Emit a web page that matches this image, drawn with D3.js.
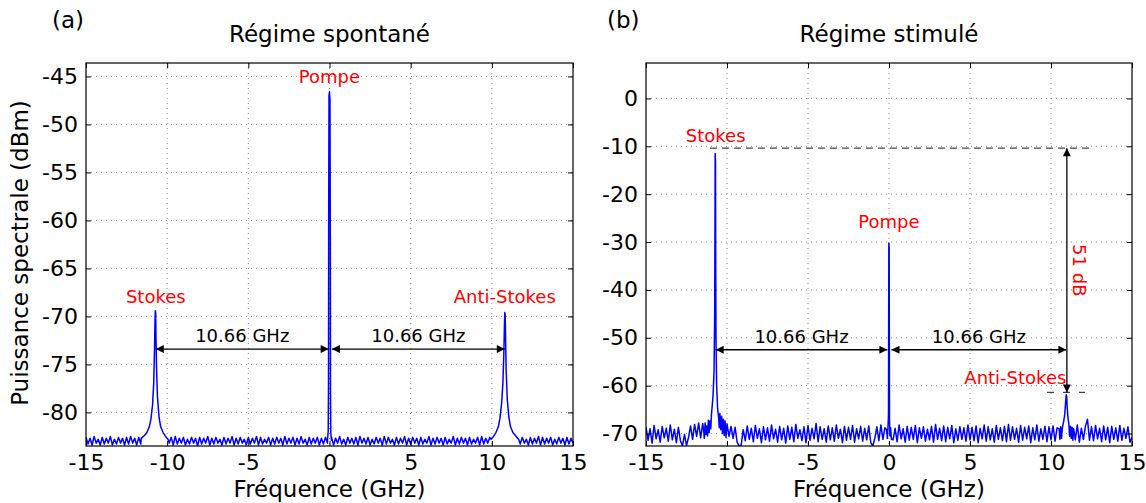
<!DOCTYPE html>
<html><head><meta charset="utf-8">
<script src="https://cdn.jsdelivr.net/npm/d3@7"></script>
<style>
body{margin:0;background:#fff}
text{font-family:"DejaVu Sans",sans-serif}
</style>
</head><body>
<svg id="c" width="1146" height="503"></svg>
<script>
// ---------- data ----------
const xTicks = [-15,-10,-5,0,5,10,15];
const yTicksA = [-80,-75,-70,-65,-60,-55,-50,-45];
const yTicksB = [-70,-60,-50,-40,-30,-20,-10,0];

// noise floor sampled every 0.125 GHz from -15 GHz
const floorStart = -15, floorStep = 0.125;
const floorA = [
-82.6,-83.3,-82.7,-83.4,-82.5,-83.2,-82.8,-83.4,-82.6,-83.3,-82.7,-83.2,-82.5,-83.4,-82.8,-83.3,-82.6,-83.2,-82.7,-83.4,
-82.6,-83.3,-82.5,-83.2,-82.7,-83.4,-82.6,-83.3,-82.8,-83.2,-82.6,-83.4,-82.7,-83.3,-82.5,-83.2,-82.8,-83.4,-82.6,-83.3,
-82.7,-83.2,-82.6,-83.4,-82.5,-83.3,-82.7,-83.2,-82.6,-83.4,-82.8,-83.3,-82.6,-83.2,-82.7,-83.5,-82.6,-83.3,-82.7,-83.2,
-82.5,-83.4,-82.7,-83.3,-82.6,-83.2,-82.8,-83.4,-82.6,-83.3,-82.7,-83.2,-82.5,-83.4,-82.7,-83.3,-82.6,-83.2,-82.8,-83.4,
-82.6,-83.3,-82.7,-83.2,-82.5,-83.4,-82.6,-83.3,-82.8,-83.2,-82.6,-83.4,-82.7,-83.3,-82.6,-83.2,-82.7,-83.4,-82.5,-83.3,
-82.7,-83.2,-82.6,-83.4,-82.7,-83.3,-82.5,-83.2,-82.8,-83.4,-82.6,-83.3,-82.7,-83.2,-82.6,-83.4,-82.7,-83.3,-82.6,-83.2,
-82.9,
-82.6,-83.4,-82.7,-83.2,-82.5,-83.3,-82.8,-83.4,-82.6,-83.2,-82.7,-83.3,-82.6,-83.4,-82.5,-83.2,-82.7,-83.3,-82.6,-83.4,
-82.8,-83.3,-82.6,-83.2,-82.7,-83.4,-82.5,-83.3,-82.6,-83.2,-82.8,-83.4,-82.6,-83.3,-82.7,-83.2,-82.5,-83.4,-82.7,-83.3,
-82.6,-83.2,-82.7,-83.4,-82.6,-83.3,-82.8,-83.2,-82.5,-83.4,-82.7,-83.3,-82.6,-83.2,-82.7,-83.4,-82.6,-83.3,-82.8,-83.2,
-82.5,-83.4,-82.7,-83.3,-82.6,-83.2,-82.7,-83.4,-82.6,-83.3,-82.8,-83.2,-82.6,-83.4,-82.5,-83.3,-82.7,-83.2,-82.6,-83.4,
-82.7,-83.3,-82.6,-83.2,-82.8,-83.4,-82.6,-83.3,-82.7,-83.2,-82.5,-83.4,-82.7,-83.3,-82.6,-83.2,-82.8,-83.4,-82.6,-83.3,
-82.7,-83.2,-82.5,-83.4,-82.6,-83.3,-82.7,-83.2,-82.6,-83.4,-82.8,-83.3,-82.6,-83.2,-82.7,-83.4,-82.6,-83.3,-82.7,-83.2
];
const floorB = [
-68.6,-71.4,-69.0,-72.0,-68.3,-71.1,-69.2,-71.8,-68.5,-70.9,-68.9,-71.6,-68.2,-71.3,-69.1,-71.9,-68.7,-71.5,-72.6,-70.2,
-72.5,-70.8,-68.4,-71.2,-68.1,-70.6,-67.8,-70.9,-67.9,-70.3,-68.0,-70.5,-67.6,-70.1,-68.3,-70.7,-67.7,-70.4,-68.2,-70.9,
-67.9,-70.6,-68.5,-71.0,-68.7,-71.8,-72.6,-72.4,-69.2,-71.5,-68.4,-71.2,-68.9,-71.7,-68.3,-71.0,-69.0,-71.9,-68.6,-71.3,
-68.8,-71.6,-68.2,-71.1,-69.1,-71.8,-68.5,-71.3,-68.9,-72.0,-68.4,-71.2,-68.7,-71.7,-68.1,-71.0,-69.2,-71.5,-68.6,-71.9,
-68.3,-71.4,-68.9,-71.1,-67.9,-71.7,-68.6,-71.2,-69.0,-71.8,-68.4,-71.3,-68.8,-71.6,-68.2,-71.0,-69.1,-71.9,-68.5,-71.4,
-68.7,-71.2,-68.3,-71.8,-69.0,-71.1,-68.5,-71.6,-68.9,-71.3,-68.4,-71.9,-72.6,-71.0,-68.6,-71.5,-68.2,-71.2,-68.8,-70.9,
-69.5,
-68.4,-71.3,-68.9,-71.7,-68.2,-71.1,-69.0,-71.8,-68.5,-71.4,-68.7,-71.2,-68.3,-71.9,-68.8,-71.0,-68.6,-71.6,-69.1,-71.3,
-68.5,-71.8,-68.1,-71.2,-68.9,-71.5,-68.4,-71.7,-68.7,-71.1,-68.3,-71.9,-69.0,-71.4,-68.6,-71.2,-68.8,-71.6,-68.2,-71.3,
-68.7,-71.5,-68.4,-71.9,-68.9,-71.1,-68.2,-71.6,-68.6,-71.3,-69.0,-71.8,-68.3,-71.2,-68.8,-71.5,-68.5,-71.7,-68.1,-71.4,
-68.6,-71.2,-68.9,-71.8,-68.3,-71.4,-68.7,-71.1,-68.4,-71.9,-68.8,-71.3,-68.2,-71.6,-69.0,-71.2,-68.5,-71.7,-68.6,-71.3,
-68.4,-71.6,-68.8,-71.2,-68.6,-71.4,-68.9,-71.1,-68.3,-71.7,-68.7,-71.3,-68.2,-71.8,-68.9,-71.2,-68.5,-67.0,-71.4,-68.6,
-71.5,-68.3,-71.1,-68.9,-71.7,-68.4,-71.3,-68.7,-71.9,-68.5,-71.2,-68.8,-71.6,-68.3,-71.4,-68.9,-71.0,-68.6,-71.8,-70.8
];

// spectral lines [GHz, dBm]
const stokesA = [[-11.6,-82.7],[-11.4,-82.4],[-11.25,-82.1],[-11.1,-81.5],[-11.0,-80.7],[-10.9,-79.2],[-10.83,-77.0],[-10.78,-73.5],[-10.75,-70.5],[-10.73,-69.4],[-10.71,-69.6],[-10.69,-72.0],[-10.66,-75.0],[-10.6,-78.3],[-10.5,-80.5],[-10.4,-81.5],[-10.25,-82.1],[-10.1,-82.5],[-9.95,-82.8]];
const pumpA = [[-0.12,-82.8],[-0.08,-82.0],[-0.06,-77.0],[-0.05,-60.0],[-0.03,-47.0],[0,-46.6],[0.03,-47.5],[0.05,-62.0],[0.06,-78.0],[0.08,-82.1],[0.12,-82.9]];
const antiA = [[9.95,-82.8],[10.1,-82.5],[10.25,-82.1],[10.4,-81.5],[10.5,-80.6],[10.6,-79.1],[10.68,-77.0],[10.74,-73.8],[10.78,-70.8],[10.8,-69.6],[10.82,-69.8],[10.85,-72.5],[10.88,-75.5],[10.95,-78.6],[11.05,-80.5],[11.15,-81.5],[11.3,-82.1],[11.5,-82.5],[11.65,-82.8]];

const stokesB = [[-11.45,-69.0],[-11.4,-71.0],[-11.35,-67.8],[-11.3,-70.2],[-11.25,-68.4],[-11.2,-70.5],[-11.15,-67.2],[-11.1,-69.8],[-11.05,-67.4],[-11.0,-69.0],[-10.96,-66.0],[-10.92,-64.5],[-10.86,-62.0],[-10.8,-57.0],[-10.76,-45.0],[-10.74,-25.0],[-10.73,-11.5],[-10.71,-13.0],[-10.7,-30.0],[-10.68,-50.0],[-10.64,-60.0],[-10.58,-64.8],[-10.52,-66.5],[-10.48,-68.8],[-10.44,-65.8],[-10.38,-69.2],[-10.33,-66.4],[-10.28,-70.0],[-10.22,-67.0],[-10.17,-70.4],[-10.12,-67.4],[-10.06,-70.8],[-10.0,-68.0]];
const pumpB = [[-0.15,-69.2],[-0.1,-71.0],[-0.06,-68.5],[-0.03,-66.0],[-0.01,-30.2],[0.01,-31.0],[0.03,-67.0],[0.06,-70.5],[0.1,-68.8],[0.15,-71.2]];
const antiB = [[10.5,-69.0],[10.55,-71.2],[10.6,-68.6],[10.65,-71.0],[10.7,-68.8],[10.78,-67.5],[10.85,-66.0],[10.9,-63.5],[10.94,-61.9],[10.97,-62.3],[11.0,-64.5],[11.05,-66.8],[11.1,-68.0],[11.15,-70.6],[11.2,-68.5],[11.25,-71.0],[11.3,-68.7],[11.35,-71.4],[11.4,-69.0]];

// annotations (data units)
const labelsA = [{t:"Stokes",f:-10.7,v:-68.6},{t:"Pompe",f:0,v:-45.7},{t:"Anti-Stokes",f:10.8,v:-68.6}];
const spansA = [{f1:-10.7,f2:-0.05,v:-73.4,t:"10.66 GHz"},{f1:0.15,f2:10.8,v:-73.4,t:"10.66 GHz"}];
const labelsB = [{t:"Stokes",f:-10.7,v:-9.1},{t:"Pompe",f:0,v:-27.1},{t:"Anti-Stokes",f:7.8,v:-59.7}];
const spansB = [{f1:-10.7,f2:-0.1,v:-52.5,t:"10.66 GHz"},{f1:0.15,f2:10.95,v:-52.5,t:"10.66 GHz"}];
const diffB = {top:-10.4, bottom:-61.4, f:10.98, t:"51 dB", dashTop:[-11.05,12.45], dashBottom:[9.75,12.1]};

// ---------- drawing ----------
const svg = d3.select("#c");
const defs = svg.append("defs");
defs.append("marker").attr("id","ah").attr("viewBox","0 0 10 10").attr("refX",10).attr("refY",5)
  .attr("markerWidth",10).attr("markerHeight",8).attr("markerUnits","userSpaceOnUse")
  .attr("orient","auto-start-reverse")
  .append("path").attr("d","M0,0L10,5L0,10Z").attr("fill","#000");

function trace(floor, peaks){
  const wins = peaks.map(p=>[p[0][0], p[p.length-1][0]]);
  const pts = [];
  floor.forEach((v,i)=>{
    const f = floorStart + i*floorStep;
    if(!wins.some(w=>f>=w[0]&&f<=w[1])) pts.push([f,v]);
  });
  peaks.forEach(p=>p.forEach(q=>pts.push(q)));
  return pts.sort((a,b)=>a[0]-b[0]);
}

function panel(cfg){
  const x = d3.scaleLinear().domain([-15,15]).range([cfg.l,cfg.r]);
  const y = d3.scaleLinear().domain(cfg.yd).range([cfg.b,cfg.t]);
  const g = svg.append("g");
  const cid = "clip"+cfg.id;
  defs.append("clipPath").attr("id",cid).append("rect")
    .attr("x",cfg.l).attr("y",cfg.t).attr("width",cfg.r-cfg.l).attr("height",cfg.b-cfg.t);
  // grid
  g.append("g").selectAll("line").data(xTicks.slice(1,-1)).join("line")
    .attr("x1",d=>x(d)).attr("x2",d=>x(d)).attr("y1",cfg.t).attr("y2",cfg.b)
    .attr("stroke","#888").attr("stroke-width",1).attr("stroke-dasharray","1,4");
  g.append("g").selectAll("line").data(cfg.yt).join("line")
    .attr("x1",cfg.l).attr("x2",cfg.r).attr("y1",d=>y(d)).attr("y2",d=>y(d))
    .attr("stroke","#888").attr("stroke-width",1).attr("stroke-dasharray","1,4");
  // trace
  g.append("path").datum(cfg.data).attr("clip-path",`url(#${cid})`)
    .attr("d",d3.line().x(d=>x(d[0])).y(d=>y(d[1])))
    .attr("fill","none").attr("stroke","#0000ff").attr("stroke-width",1.5)
    .attr("stroke-linejoin","round");
  // axes
  const fs = "22px";
  const ab = g.append("g").attr("transform",`translate(0,${cfg.b})`)
    .call(d3.axisBottom(x).tickValues(xTicks).tickSize(-5).tickPadding(8.5));
  const at = g.append("g").attr("transform",`translate(0,${cfg.t})`)
    .call(d3.axisTop(x).tickValues(xTicks).tickSize(-5).tickFormat(""));
  const al = g.append("g").attr("transform",`translate(${cfg.l},0)`)
    .call(d3.axisLeft(y).tickValues(cfg.yt).tickSize(-5).tickPadding(8));
  const ar = g.append("g").attr("transform",`translate(${cfg.r},0)`)
    .call(d3.axisRight(y).tickValues(cfg.yt).tickSize(-5).tickFormat(""));
  [ab,at,al,ar].forEach(a=>{
    a.select(".domain").remove();
    a.selectAll("text").attr("font-size",fs).attr("font-family","DejaVu Sans").attr("fill","#000");
    a.selectAll("line").attr("stroke","#000");
  });
  ab.selectAll("text").text(d=>String(d).replace("\u2212","-"));
  al.selectAll("text").text(d=>String(d).replace("\u2212","-"));
  g.append("rect").attr("x",cfg.l).attr("y",cfg.t).attr("width",cfg.r-cfg.l).attr("height",cfg.b-cfg.t)
    .attr("fill","none").attr("stroke","#000").attr("stroke-width",1.2);
  // titles
  const cx = (cfg.l+cfg.r)/2;
  g.append("text").attr("x",cx).attr("y",42).attr("text-anchor","middle").attr("font-size","23px").text(cfg.title);
  g.append("text").attr("x",cfg.letterX).attr("y",28).attr("font-size","23px").text(cfg.letter);
  g.append("text").attr("x",cx).attr("y",497).attr("text-anchor","middle").attr("font-size","23px").text("Fréquence (GHz)");
  // labels
  g.append("g").selectAll("text").data(cfg.labels).join("text")
    .attr("x",d=>x(d.f)).attr("y",d=>y(d.v)).attr("text-anchor","middle")
    .attr("font-size","18px").attr("fill","#ff0000").text(d=>d.t);
  // spans with arrows
  cfg.spans.forEach(s=>{
    g.append("line").attr("x1",x(s.f1)).attr("x2",x(s.f2)).attr("y1",y(s.v)).attr("y2",y(s.v))
      .attr("stroke","#000").attr("stroke-width",1.3)
      .attr("marker-start","url(#ah)").attr("marker-end","url(#ah)");
    g.append("text").attr("x",(x(s.f1)+x(s.f2))/2).attr("y",y(s.v)-7).attr("text-anchor","middle")
      .attr("font-size","18px").attr("fill","#000").text(s.t);
  });
  return {g,x,y};
}

const pa = panel({id:"a", l:86, r:573, t:63, b:446, yd:[-83.5,-43.6], yt:yTicksA,
  data: trace(floorA,[stokesA,pumpA,antiA]), title:"Régime spontané", letter:"(a)", letterX:52,
  labels:labelsA, spans:spansA});
svg.append("text").attr("transform","translate(28,253) rotate(-90)").attr("text-anchor","middle")
  .attr("font-size","23px").text("Puissance spectrale (dBm)");

const pb = panel({id:"b", l:646, r:1132, t:63, b:446, yd:[-72.6,7.4], yt:yTicksB,
  data: trace(floorB,[stokesB,pumpB,antiB]), title:"Régime stimulé", letter:"(b)", letterX:607,
  labels:labelsB, spans:spansB});

// 51 dB annotation
{
  const {g,x,y} = pb;
  g.append("line").attr("x1",x(diffB.dashTop[0])).attr("x2",x(diffB.dashTop[1]))
    .attr("y1",y(diffB.top)).attr("y2",y(diffB.top))
    .attr("stroke","#444").attr("stroke-width",1.2).attr("stroke-dasharray","7,5");
  g.append("line").attr("x1",x(diffB.dashBottom[0])).attr("x2",x(diffB.dashBottom[1]))
    .attr("y1",y(diffB.bottom)).attr("y2",y(diffB.bottom))
    .attr("stroke","#444").attr("stroke-width",1.2).attr("stroke-dasharray","7,9");
  g.append("line").attr("x1",x(diffB.f)).attr("x2",x(diffB.f))
    .attr("y1",y(diffB.top)).attr("y2",y(diffB.bottom))
    .attr("stroke","#000").attr("stroke-width",1.3)
    .attr("marker-start","url(#ah)").attr("marker-end","url(#ah)");
  const ty = (y(diffB.top)+y(diffB.bottom))/2;
  g.append("text").attr("transform",`translate(${x(diffB.f)+6},${ty}) rotate(90)`)
    .attr("text-anchor","middle").attr("font-size","18px").attr("fill","#ff0000").text(diffB.t);
}
</script>
</body></html>
